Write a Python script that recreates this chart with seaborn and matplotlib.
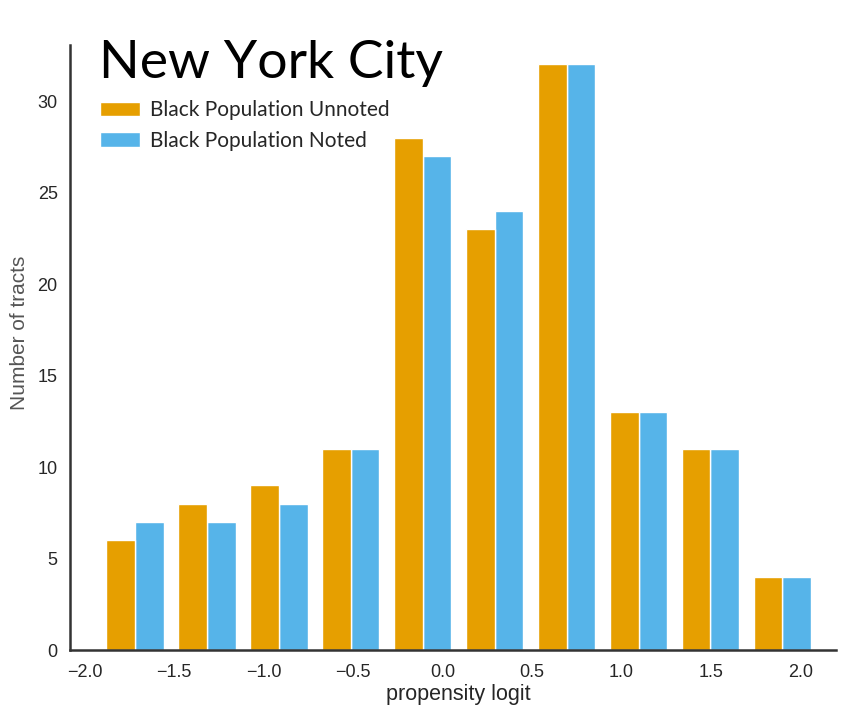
import numpy as np
import pandas as pd
import matplotlib
matplotlib.use("Agg")
import matplotlib.pyplot as plt
from matplotlib.patches import Patch
import seaborn as sns

# ---- data ----
bin_low, bin_high, n_bins = -1.92, 2.10, 10
series_names = ["Black Population Unnoted", "Black Population Noted"]
unnoted_counts = [6, 8, 9, 11, 28, 23, 32, 13, 11, 4]
noted_counts = [7, 7, 8, 11, 27, 24, 32, 13, 11, 4]
colors = ["#E69F00", "#56B4E9"]

bin_edges = np.linspace(bin_low, bin_high, n_bins + 1)
centers = (bin_edges[:-1] + bin_edges[1:]) / 2
df = pd.DataFrame({
    "x": np.concatenate([centers, centers]),
    "count": unnoted_counts + noted_counts,
    "series": [series_names[0]] * n_bins + [series_names[1]] * n_bins,
})

sns.set_theme(style="white")
plt.rcParams["font.family"] = ["Liberation Sans", "DejaVu Sans"]

fig = plt.figure(figsize=(8.56, 7.18), dpi=100)
ax = fig.add_axes([0.082, 0.0947, 0.895, 0.8423])

sns.histplot(data=df, x="x", weights="count", hue="series", hue_order=series_names,
             bins=n_bins, binrange=(bin_low, bin_high), multiple="dodge", shrink=0.8,
             palette=colors, edgecolor="white", linewidth=1, alpha=1, legend=False, ax=ax)

ax.set_xlim(-2.08, 2.2)
ax.set_ylim(0, 33.05)
ax.set_xticks(np.arange(-2.0, 2.01, 0.5))
ax.set_yticks(np.arange(0, 31, 5))
ax.tick_params(axis="both", labelsize=13, colors="#262626", length=0)
ax.tick_params(axis="y", pad=9)
ax.tick_params(axis="x", pad=10)
for s in ["top", "right"]:
    ax.spines[s].set_visible(False)
for s in ["left", "bottom"]:
    ax.spines[s].set_color("#333333")
    ax.spines[s].set_linewidth(1.8)

ax.set_xlabel("propensity logit", fontsize=15.5, color="#262626")
ax.xaxis.set_label_coords(0.507, -0.056)
ax.set_ylabel("Number of tracts", fontsize=15, color="#555555")
ax.yaxis.set_label_coords(-0.054, 0.524)

ax.text(0.037, 1.008, "New York City", transform=ax.transAxes, fontsize=38.5,
        family=["Lato", "DejaVu Sans"], color="black", va="top", ha="left")

handles = [Patch(facecolor=c, edgecolor="white") for c in colors]
ax.legend(handles, series_names, loc="upper left", bbox_to_anchor=(0.0146, 0.94),
          frameon=False, prop={"family": ["Lato", "DejaVu Sans"], "size": 15},
          handlelength=1.9, handleheight=0.7, handletextpad=0.48, labelspacing=0.5)

fig.savefig("out.png", dpi=100, facecolor="white")
